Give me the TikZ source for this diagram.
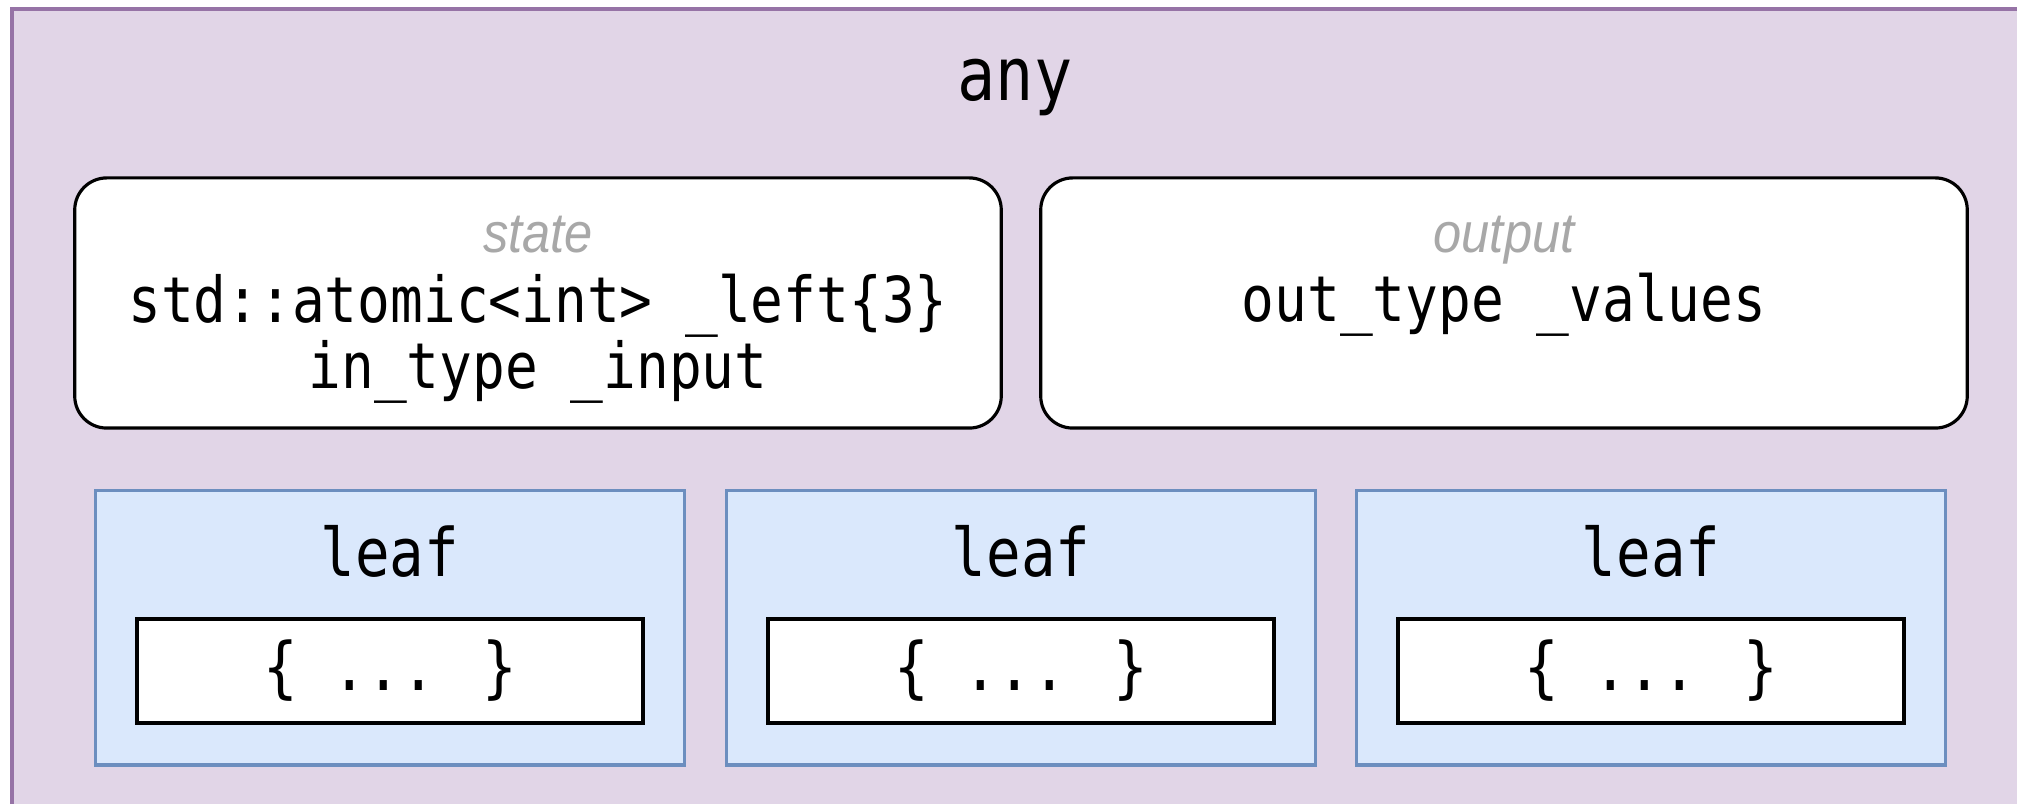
\documentclass[tikz,border=0pt]{standalone}
\usepackage{fontspec}
\newfontfamily\codefont{DejaVu Sans Mono}[FakeStretch=0.86]
\newfontfamily\tagfont{Liberation Sans}[FakeStretch=0.9]
\definecolor{anyfill}{HTML}{E1D5E7}
\definecolor{anyline}{HTML}{9673A6}
\definecolor{leaffill}{HTML}{DAE8FC}
\definecolor{leafline}{HTML}{6C8EBF}
\definecolor{taggray}{HTML}{A8A8A8}
\tikzset{
    anybox/.style={draw=anyline, fill=anyfill, line width=0.9pt},
    membox/.style={draw, fill=white, rounded corners=0.32cm, line width=0.9pt,
        minimum width=9.26cm, minimum height=2.5cm},
    leafbox/.style={draw=leafline, fill=leaffill, line width=0.9pt,
        minimum width=5.89cm, minimum height=2.74cm},
    bodybox/.style={draw, fill=white, line width=1.1pt, minimum width=5.05cm,
        minimum height=1.04cm, font=\codefont\fontsize{19}{20}\selectfont},
    code/.style={font=\codefont\fontsize{18}{17}\selectfont, align=center, anchor=base},
    tag/.style={font=\tagfont\itshape\fontsize{16}{17}\selectfont, text=taggray, anchor=base}
}
\begin{document}
\begin{tikzpicture}[x=0.01cm, y=-0.01cm]
            \useasboundingbox (0, 0) rectangle (2017, 804);

            \draw[anybox](12, 9) rectangle (2040, 830);
            \node[code, font=\codefont\fontsize{21}{22}\selectfont] at(1015, 101)(anytitle){any};

            %%state and output
            \node[membox] at(538, 303)(state){};
            \node[tag] at(538, 253)(statetag){state};
            % base of a two-line node is its last line
            \node[code] at(538, 389)(statevars){std::atomic<int> \_left\{3\}\\in\_type \_input};

            \node[membox] at(1504, 303)(output){};
            \node[tag] at(1504, 253)(outputtag){output};
            \node[code] at(1504, 322)(outputvars){out\_type \_values};

            %%leaves
            \foreach \x/\n in {390/a, 1021/b, 1651/c}{
                \node[leafbox] at(\x, 628)(leaf\n){};
                \node[code, font=\codefont\fontsize{19}{20}\selectfont] at(\x, 577)(leaftitle\n){leaf};
                \node[bodybox] at(\x, 671)(body\n){\{ ... \}};
            }
        \end{tikzpicture}
\end{document}
